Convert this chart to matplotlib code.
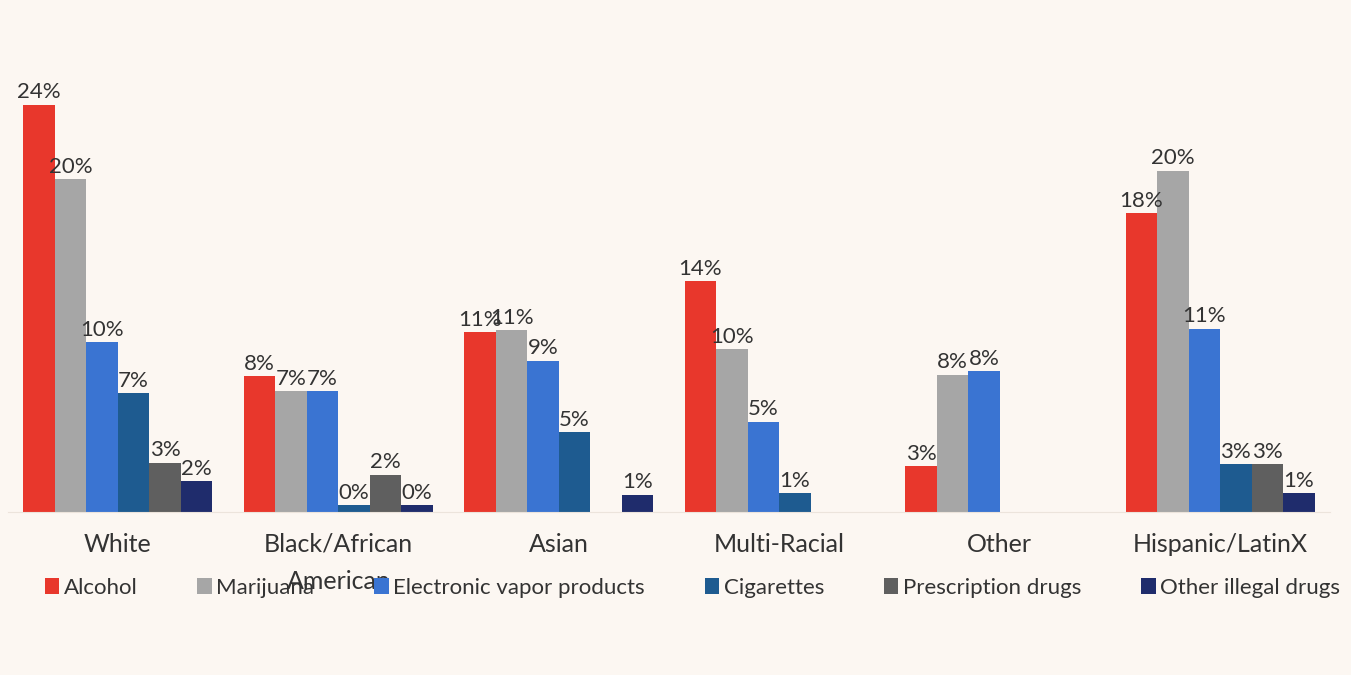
import numpy as np
import matplotlib
matplotlib.use("Agg")
from matplotlib import pyplot as plt

# Data (percent of students)
groups = ["White", "Black/African\nAmerican", "Asian", "Multi-Racial", "Other", "Hispanic/LatinX"]
substances = ["Alcohol", "Marijuana", "Electronic vapor products", "Cigarettes",
              "Prescription drugs", "Other illegal drugs"]

alcohol = [24.0, 8.0, 10.6, 13.6, 2.7, 17.6]
marijuana = [19.6, 7.1, 10.7, 9.6, 8.1, 20.1]
vapor = [10.0, 7.1, 8.9, 5.3, 8.3, 10.8]
cigarettes = [7.0, 0.4, 4.7, 1.1, 0.0, 2.8]
prescription = [2.9, 2.2, 0.0, 0.0, 0.0, 2.8]
other_illegal = [1.8, 0.4, 1.0, 0.0, 0.0, 1.1]

series = [alcohol, marijuana, vapor, cigarettes, prescription, other_illegal]
colors = ["#e8372c", "#a6a6a6", "#3a74d2", "#1e5b90", "#5f5f5f", "#1f2c6c"]

plt.rcParams["font.family"] = ["Lato", "DejaVu Sans"]
bg = "#fcf7f2"

fig = plt.figure(figsize=(13.51, 6.75), dpi=100, facecolor=bg)
ax = fig.add_axes([0.0057, 0.2415, 0.979, 0.699])
ax.set_facecolor(bg)

x = np.arange(len(groups))
width = 1 / 7
for i, (vals, col, name) in enumerate(zip(series, colors, substances)):
    pos = x + (i - 2.5) * width
    bars = ax.bar(pos, vals, width, color=col, label=name)
    for b, v in zip(bars, vals):
        if v > 0:
            ax.text(b.get_x() + b.get_width() / 2, v + 0.15, f"{v:.0f}%",
                    ha="center", va="bottom", fontsize=16, color="#333333")

ax.set_xlim(-0.5, len(groups) - 0.5)
ax.set_ylim(0, 27.8)
ax.set_yticks([])
ax.set_xticks(x)
ax.set_xticklabels(groups, fontsize=18, color="#333333", linespacing=1.72, va="top")
ax.tick_params(axis="x", length=0, pad=15)
for s in ["top", "right", "left"]:
    ax.spines[s].set_visible(False)
ax.spines["bottom"].set_color("#ece4dc")

fig.legend(loc="center left", bbox_to_anchor=(0.033, 1 - 588 / 675), ncol=6,
           frameon=False, fontsize=16, handlelength=0.65, handleheight=0.75,
           handletextpad=0.2, columnspacing=2.7, borderpad=0, borderaxespad=0,
           labelcolor="#333333")

fig.savefig("out.png", dpi=100, facecolor=bg)
